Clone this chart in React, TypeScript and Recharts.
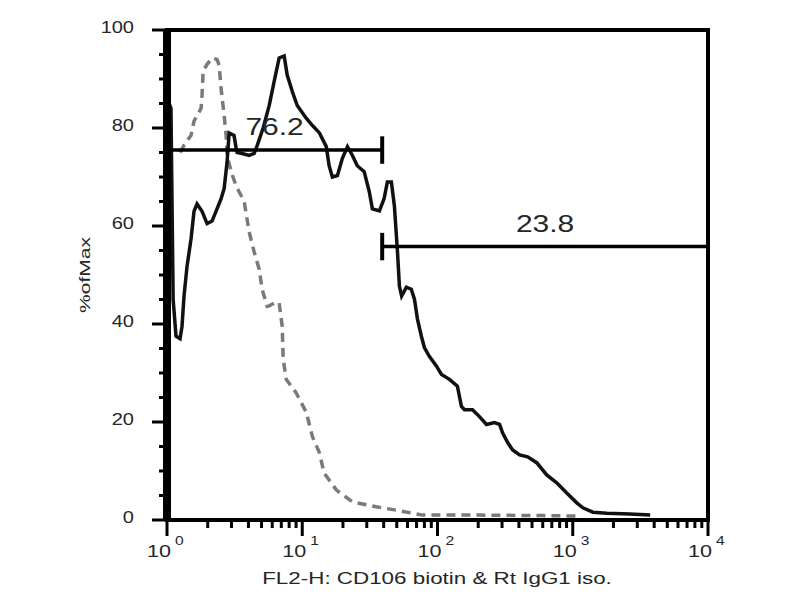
import React from "react";
import {
  LineChart,
  Line,
  XAxis,
  YAxis,
  ReferenceLine,
  ReferenceArea,
  Label,
} from "recharts";

// CD106 stained sample (solid) - fluorescence vs % of max
const solidX = [
  1.0, 1.035, 1.07, 1.11, 1.166, 1.248, 1.291, 1.336, 1.407, 1.506, 1.584, 1.668,
  1.816, 1.979, 2.154, 2.343, 2.512, 2.645, 2.78, 2.88, 3.13, 3.24, 3.3, 3.59,
  4.05, 4.41, 4.64, 5.14, 5.7, 6.2, 6.75, 7.35, 7.74, 8.43, 9.18, 10.7, 11.9,
  13.4, 15.06, 15.8, 16.7, 18.2, 19.8, 21.6, 23.5, 25.5, 28.7, 31.3, 33.0, 37.2,
  40.3, 42.6, 45.6, 48.0, 50.6, 52.3, 54.3, 58.9, 64.0, 67.6, 71.1, 76.0, 80.0,
  87.0, 98.3, 107, 122.6, 140.3, 150.3, 158.4, 181.5, 204.3, 230.2, 263.6, 287.7,
  302.7, 330.3, 359.4, 405, 464, 541, 642, 761, 903, 1071, 1188, 1409, 1790, 2643,
  3737,
];
const solidY = [
  86, 85, 84, 45, 37.5, 37, 39.5, 45.7, 51.8, 57.4, 63, 64.5, 63, 60.5, 61, 63.5,
  65.6, 67.6, 73, 79, 78.5, 76, 75, 74.8, 74.4, 74.8, 76.4, 80, 84.6, 89.5, 94.3,
  94.7, 90.8, 87.5, 84.6, 82, 80.5, 79, 76.2, 72.3, 70, 70.3, 73.8, 76.2, 74.4,
  72.3, 71.1, 67, 63.5, 63.1, 65.6, 69, 69, 64.1, 54.7, 47.7, 45.7, 47.5, 47.1, 45,
  41, 37.5, 35.2, 33.4, 31.4, 29.7, 28.7, 27.3, 23.2, 22.5, 22.5, 21.1, 19.5, 19.9,
  19.5, 17.8, 15.8, 14.3, 13.3, 12.9, 11.7, 9.2, 7.6, 5.5, 3.5, 2.5, 1.6, 1.4, 1.2,
  1.0,
];

// Rt IgG1 isotype control (dashed)
const isoX = [
  1.25, 1.336, 1.506, 1.584, 1.786, 1.816, 1.85, 1.979, 2.154, 2.343, 2.43, 2.512,
  2.645, 2.737, 2.78, 2.98, 3.24, 3.72, 4.05, 4.41, 4.8, 5.06, 5.51, 5.7, 6.42,
  6.75, 7.11, 7.23, 7.61, 9.0, 10.7, 11.9, 13.4, 14.5, 17.9, 23.5, 35.2, 49.7,
  77.4, 204, 600, 1127,
];
const isoY = [
  75, 76.5, 78.5, 81.4, 84, 86.7, 91.6, 93, 94.3, 94, 92.8, 88, 82.6, 78.5, 74.4,
  71.1, 68.2, 65, 58.8, 54.7, 51.2, 47, 43.6, 43.7, 44.5, 44.3, 39.5, 32.8, 28.7,
  26, 22, 17, 13.7, 9.6, 6.1, 3.7, 2.7, 2, 1, 1, 0.9, 0.8,
];

// gates
const gateLabels = ["76.2", "23.8"];
const gateFrom = [1, 39];
const gateTo = [39, 10000];
const gateLevel = [75.5, 55.8];

const xTicks = [1, 2, 3, 4, 5, 6, 7, 8, 9, 10, 20, 30, 40, 50, 60, 70, 80, 90,
  100, 200, 300, 400, 500, 600, 700, 800, 900, 1000, 2000, 3000, 4000, 5000, 6000,
  7000, 8000, 9000, 10000];
const yTicks = [0, 5, 10, 15, 20, 25, 30, 35, 40, 45, 50, 55, 60, 65, 70, 75, 80,
  85, 90, 95, 100];

const solidData = solidX.map((x, i) => ({ x, y: solidY[i] }));
const isoData = isoX.map((x, i) => ({ x, y: isoY[i] }));

const FONT = "'Liberation Sans', Arial, sans-serif";
const TEXT = "#262626";

const XTick = (props: any) => {
  const { x, y, payload } = props;
  const exp = Math.log10(payload.value);
  const major = Math.abs(exp - Math.round(exp)) < 1e-6;
  return (
    <g transform={`translate(${x},${y})`}>
      <line x1={0} y1={0} x2={0} y2={major ? 16 : 8} stroke="#000" strokeWidth={3} />
      {major && (
        <>
          <text transform="translate(-8,37) scale(1.35,1)" textAnchor="middle"
            fontSize={16} fontFamily={FONT} fill={TEXT}>10</text>
          <text transform="translate(8,25) scale(1.3,1)" fontSize={12}
            fontFamily={FONT} fill={TEXT}>{Math.round(exp)}</text>
        </>
      )}
    </g>
  );
};

const YTick = (props: any) => {
  const { x, y, payload } = props;
  const major = payload.value % 20 === 0;
  return (
    <g transform={`translate(${x},${y})`}>
      <line x1={major ? -15 : -8} y1={0} x2={0} y2={0} stroke="#000" strokeWidth={3} />
      {major && (
        <text transform="translate(-33,3) scale(1.25,1)" textAnchor="end"
          fontSize={16} fontFamily={FONT} fill={TEXT}>{payload.value}</text>
      )}
    </g>
  );
};

const gateLabel = (text: string) => (props: any) => {
  const vb = props.viewBox || {};
  const cx = vb.x + vb.width / 2;
  return (
    <text transform={`translate(${cx},${vb.y - 15}) scale(1.25,1)`}
      textAnchor="middle" fontSize={24} fontFamily={FONT} fill={TEXT}>{text}</text>
  );
};

const App: React.FC = () => {
  return (
    <LineChart width={800} height={592}
      margin={{ top: 22, right: 100, left: 99, bottom: 20 }}>
      <XAxis dataKey="x" type="number" scale="log" domain={[1, 10000]}
        allowDataOverflow ticks={xTicks} interval={0} height={60}
        tickSize={0} tickMargin={0} tickLine={false} tick={(p: any) => <XTick {...p} />}
        axisLine={{ stroke: "#000", strokeWidth: 4 }}>
        <Label content={() => (
          <text transform="translate(429,576) scale(1.4,1)" textAnchor="middle"
            fontSize={16} fontFamily={FONT} fill={TEXT}>
            FL2-H: CD106 biotin &amp; Rt IgG1 iso.
          </text>
        )} />
      </XAxis>
      <YAxis type="number" domain={[0, 100]} ticks={yTicks} interval={0} width={60}
        tickSize={0} tickMargin={0} tickLine={false} tick={(p: any) => <YTick {...p} />}
        axisLine={{ stroke: "#000", strokeWidth: 8 }}>
        <Label content={() => (
          <text transform="translate(82,267) rotate(-90) scale(1.4,1)" textAnchor="middle"
            fontSize={15} fontFamily={FONT} fill={TEXT}>%ofMax</text>
        )} />
      </YAxis>
      <ReferenceArea x1={1} x2={10000} y1={0} y2={100} fill="none"
        stroke="#000" strokeWidth={4} ifOverflow="visible" />
      <Line data={isoData} dataKey="y" type="linear" stroke="#7a7a7a"
        strokeWidth={3.5} strokeDasharray="9 6" dot={false} isAnimationActive={false} />
      <Line data={solidData} dataKey="y" type="linear" stroke="#111"
        strokeWidth={3.5} dot={false} isAnimationActive={false} />
      {gateLabels.map((g, i) => (
        <ReferenceLine key={`h${i}`} ifOverflow="visible"
          segment={[{ x: gateFrom[i], y: gateLevel[i] }, { x: gateTo[i], y: gateLevel[i] }]}
          stroke="#000" strokeWidth={3.5} label={gateLabel(g)} />
      ))}
      {gateLabels.map((g, i) => (
        <ReferenceLine key={`a${i}`} ifOverflow="visible"
          segment={[{ x: gateFrom[i], y: gateLevel[i] - 2.8 }, { x: gateFrom[i], y: gateLevel[i] + 2.8 }]}
          stroke="#000" strokeWidth={4} />
      ))}
      {gateLabels.map((g, i) => (
        <ReferenceLine key={`b${i}`} ifOverflow="visible"
          segment={[{ x: gateTo[i], y: gateLevel[i] - 2.8 }, { x: gateTo[i], y: gateLevel[i] + 2.8 }]}
          stroke="#000" strokeWidth={4} />
      ))}
    </LineChart>
  );
};

export default App;
